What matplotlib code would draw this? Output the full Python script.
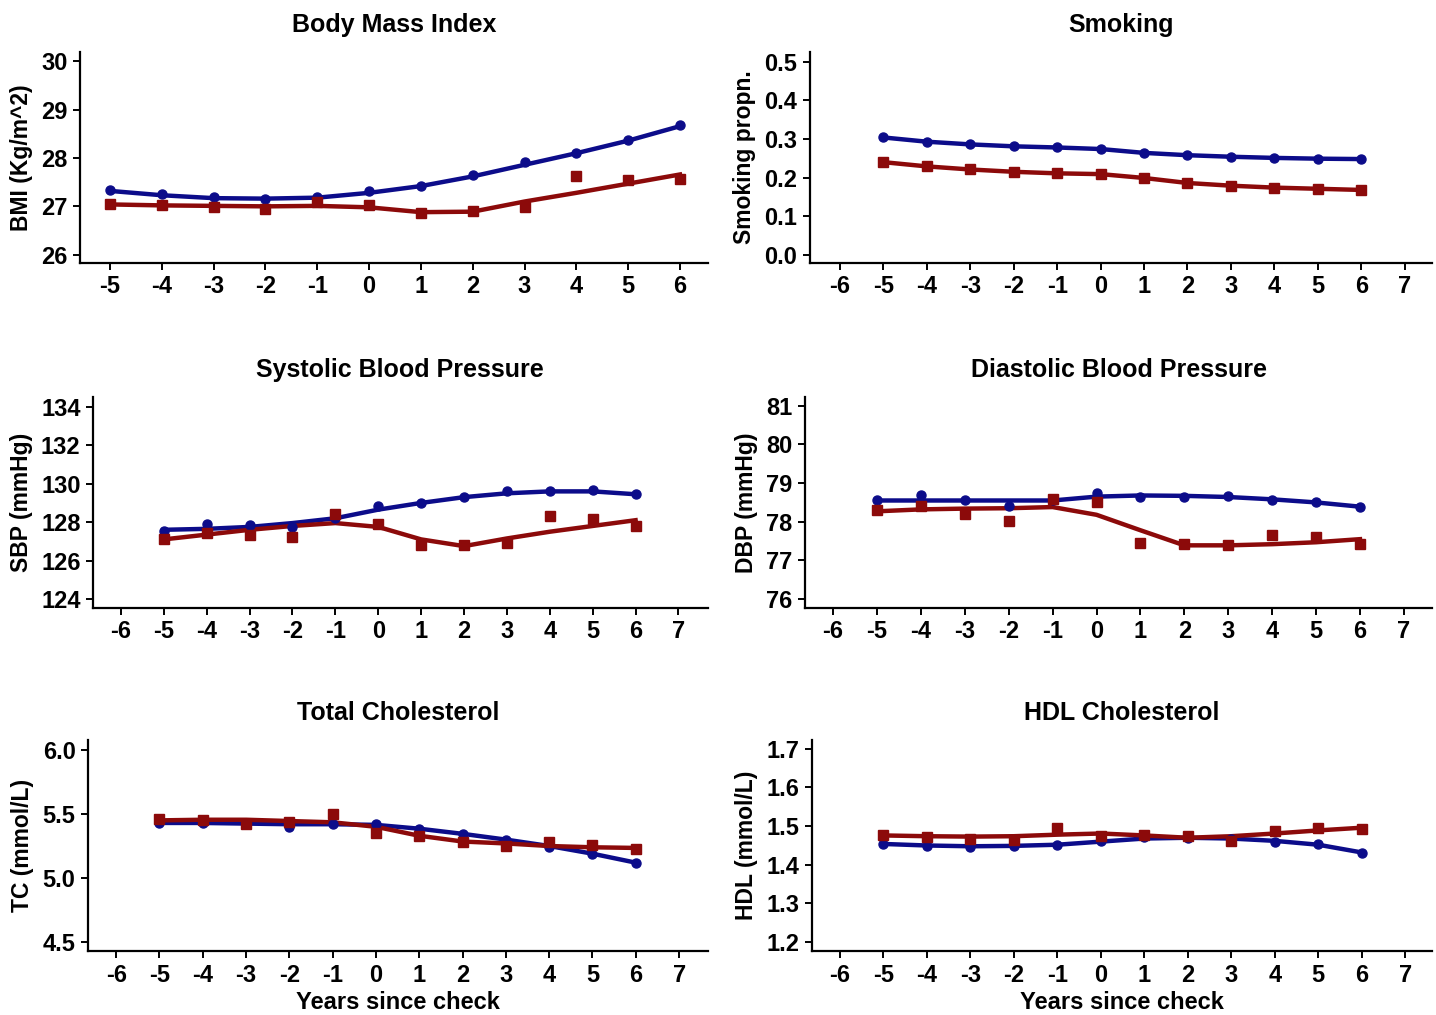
import numpy as np
import matplotlib.pyplot as plt

plt.rcParams['font.family'] = ['Liberation Sans', 'DejaVu Sans']
plt.rcParams['font.weight'] = 'bold'
plt.rcParams['axes.unicode_minus'] = False

years = [-5, -4, -3, -2, -1, 0, 1, 2, 3, 4, 5, 6]

# Body mass index
bmi_blue = [27.34, 27.25, 27.19, 27.15, 27.2, 27.32, 27.43, 27.65, 27.92, 28.1, 28.37, 28.68]
bmi_blue_fit = [27.32, 27.23, 27.17, 27.16, 27.18, 27.28, 27.42, 27.62, 27.86, 28.1, 28.36, 28.66]
bmi_red = [27.05, 27.02, 26.98, 26.95, 27.08, 27.02, 26.86, 26.9, 26.99, 27.62, 27.55, 27.57]
bmi_red_fit = [27.04, 27.02, 27.01, 27.0, 27.01, 26.98, 26.88, 26.89, 27.1, 27.28, 27.47, 27.66]

# Smoking
smk_blue = [0.304, 0.293, 0.286, 0.281, 0.278, 0.274, 0.264, 0.258, 0.254, 0.251, 0.249, 0.248]
smk_red = [0.24, 0.229, 0.221, 0.215, 0.211, 0.209, 0.199, 0.186, 0.179, 0.174, 0.171, 0.168]

# Systolic blood pressure
sbp_blue = [127.55, 127.9, 127.85, 127.75, 128.2, 128.85, 129.0, 129.3, 129.6, 129.6, 129.65, 129.45]
sbp_blue_fit = [127.6, 127.65, 127.75, 127.95, 128.2, 128.65, 129.0, 129.3, 129.5, 129.6, 129.6, 129.45]
sbp_red = [127.1, 127.45, 127.35, 127.25, 128.4, 127.9, 126.8, 126.8, 126.9, 128.3, 128.15, 127.8]
sbp_red_fit = [127.1, 127.35, 127.6, 127.8, 127.95, 127.75, 127.1, 126.75, 127.15, 127.5, 127.8, 128.1]

# Diastolic blood pressure
dbp_blue = [78.55, 78.68, 78.56, 78.4, 78.56, 78.75, 78.63, 78.65, 78.66, 78.56, 78.5, 78.39]
dbp_blue_fit = [78.55, 78.55, 78.55, 78.55, 78.55, 78.65, 78.68, 78.67, 78.64, 78.58, 78.5, 78.39]
dbp_red = [78.3, 78.42, 78.19, 78.02, 78.59, 78.52, 77.44, 77.42, 77.4, 77.66, 77.61, 77.42]
dbp_red_fit = [78.27, 78.32, 78.34, 78.35, 78.38, 78.18, 77.78, 77.39, 77.39, 77.42, 77.47, 77.55]

# Total cholesterol
tc_blue = [5.43, 5.43, 5.42, 5.4, 5.42, 5.42, 5.38, 5.345, 5.3, 5.245, 5.19, 5.12]
tc_blue_fit = [5.43, 5.43, 5.425, 5.42, 5.42, 5.415, 5.385, 5.345, 5.3, 5.25, 5.19, 5.12]
tc_red = [5.46, 5.45, 5.42, 5.435, 5.5, 5.35, 5.325, 5.28, 5.25, 5.285, 5.255, 5.23]
tc_red_fit = [5.45, 5.455, 5.455, 5.445, 5.435, 5.4, 5.33, 5.285, 5.27, 5.25, 5.24, 5.235]

# HDL cholesterol
hdl_blue = [1.455, 1.449, 1.446, 1.448, 1.452, 1.462, 1.472, 1.469, 1.467, 1.459, 1.455, 1.431]
hdl_blue_fit = [1.454, 1.45, 1.448, 1.449, 1.452, 1.46, 1.468, 1.47, 1.468, 1.462, 1.452, 1.432]
hdl_red = [1.478, 1.473, 1.466, 1.464, 1.494, 1.475, 1.477, 1.475, 1.462, 1.487, 1.496, 1.492]
hdl_red_fit = [1.476, 1.474, 1.473, 1.474, 1.478, 1.481, 1.476, 1.47, 1.474, 1.481, 1.489, 1.496]

BLUE = '#0c0c8a'
RED = '#8c0a0a'

panels = [
    dict(title='Body Mass Index', ylabel='BMI (Kg/m^2)', pos=[0.0557, 0.741, 0.4373, 0.208],
         xlim=(-5.58, 6.54), xticks=range(-5, 7), ylim=(25.83, 30.2), yticks=[26, 27, 28, 29, 30], fmt='%d',
         blue=bmi_blue, blue_fit=bmi_blue_fit, red=bmi_red, red_fit=bmi_red_fit),
    dict(title='Smoking', ylabel='Smoking propn.', pos=[0.564, 0.741, 0.433, 0.208],
         xlim=(-6.69, 7.62), xticks=range(-6, 8), ylim=(-0.021, 0.526), yticks=[0, 0.1, 0.2, 0.3, 0.4, 0.5], fmt='%.1f',
         blue=smk_blue, blue_fit=smk_blue, red=smk_red, red_fit=smk_red),
    dict(title='Systolic Blood Pressure', ylabel='SBP (mmHg)', pos=[0.0648, 0.401, 0.428, 0.208],
         xlim=(-6.65, 7.68), xticks=range(-6, 8), ylim=(123.53, 134.52), yticks=[124, 126, 128, 130, 132, 134], fmt='%d',
         blue=sbp_blue, blue_fit=sbp_blue_fit, red=sbp_red, red_fit=sbp_red_fit),
    dict(title='Diastolic Blood Pressure', ylabel='DBP (mmHg)', pos=[0.5606, 0.401, 0.4366, 0.208],
         xlim=(-6.64, 7.64), xticks=range(-6, 8), ylim=(75.77, 81.23), yticks=[76, 77, 78, 79, 80, 81], fmt='%d',
         blue=dbp_blue, blue_fit=dbp_blue_fit, red=dbp_red, red_fit=dbp_red_fit),
    dict(title='Total Cholesterol', ylabel='TC (mmol/L)', pos=[0.0613, 0.063, 0.4318, 0.208],
         xlim=(-6.65, 7.67), xticks=range(-6, 8), ylim=(4.43, 6.078), yticks=[4.5, 5.0, 5.5, 6.0], fmt='%.1f',
         blue=tc_blue, blue_fit=tc_blue_fit, red=tc_red, red_fit=tc_red_fit, xlabel=True),
    dict(title='HDL Cholesterol', ylabel='HDL (mmol/L)', pos=[0.5655, 0.063, 0.4318, 0.208],
         xlim=(-6.64, 7.62), xticks=range(-6, 8), ylim=(1.177, 1.723), yticks=[1.2, 1.3, 1.4, 1.5, 1.6, 1.7], fmt='%.1f',
         blue=hdl_blue, blue_fit=hdl_blue_fit, red=hdl_red, red_fit=hdl_red_fit, xlabel=True),
]

fig = plt.figure(figsize=(14.36, 10.15), dpi=100)

for p in panels:
    ax = fig.add_axes(p['pos'])
    ax.plot(years, p['blue_fit'], color=BLUE, lw=3.2, zorder=2)
    ax.plot(years, p['red_fit'], color=RED, lw=3.2, zorder=2)
    ax.plot(years, p['blue'], 'o', color=BLUE, ms=6.5, zorder=3)
    ax.plot(years, p['red'], 's', color=RED, ms=7.5, zorder=3)
    ax.set_xlim(*p['xlim'])
    ax.set_ylim(*p['ylim'])
    ax.set_xticks(list(p['xticks']))
    ax.set_yticks(p['yticks'])
    ax.set_yticklabels([p['fmt'] % v for v in p['yticks']])
    ax.spines['top'].set_visible(False)
    ax.spines['right'].set_visible(False)
    ax.spines['left'].set_linewidth(1.6)
    ax.spines['bottom'].set_linewidth(1.6)
    ax.tick_params(axis='both', direction='out', length=5, width=1.4, labelsize=17, pad=4)
    for lab in ax.get_xticklabels() + ax.get_yticklabels():
        lab.set_fontweight('bold')
    ax.set_title(p['title'], fontsize=18, fontweight='bold', pad=14)
    ax.set_ylabel(p['ylabel'], fontsize=16.5, fontweight='bold', labelpad=6)
    if p.get('xlabel'):
        ax.set_xlabel('Years since check', fontsize=17, fontweight='bold', labelpad=3)

fig.savefig('out.png', dpi=100)
